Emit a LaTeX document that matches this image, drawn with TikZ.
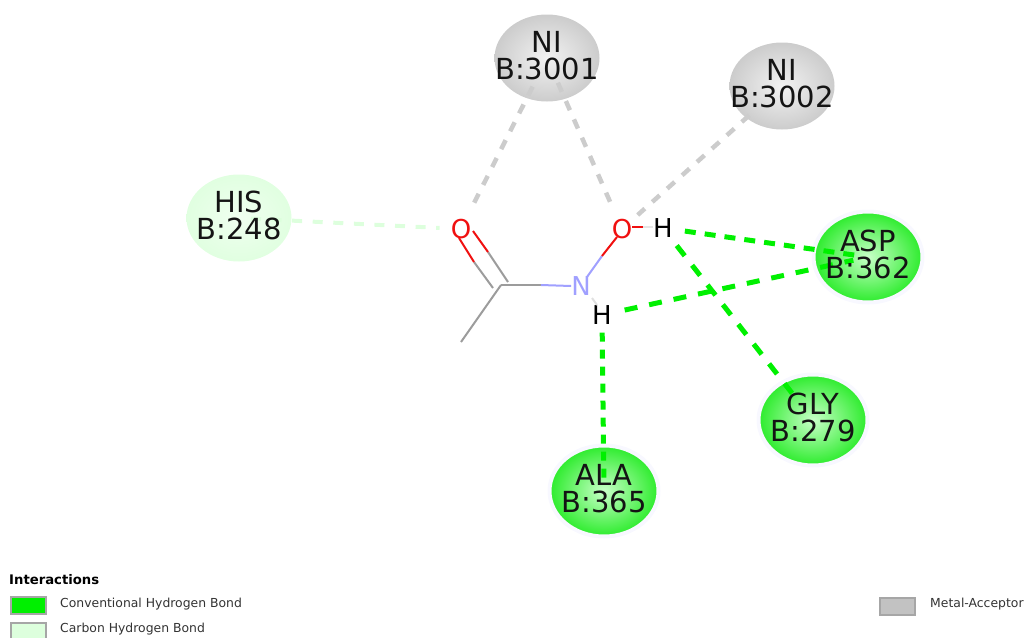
\documentclass[tikz,border=0pt]{standalone}
\usepackage{fontspec}
\usetikzlibrary{shapes.geometric}
\setmainfont{DejaVu Sans}
\begin{document}
\begin{tikzpicture}[x=1pt,y=-1pt,
  resnode/.style={ellipse,minimum width=105pt,minimum height=87pt,inner sep=0pt,outer sep=0pt,draw=none},
  halo/.style={draw=haloc,line width=4pt,minimum width=109pt,minimum height=91pt},
  greenres/.style={inner color=hbcentre,outer color=hbouter},
  grayres/.style={inner color=white!95!black,outer color=black!20},
  resname/.style={align=center,font=\fontsize{29}{26.5}\selectfont,text=black!92,inner sep=0pt,yshift=2.5pt},
  atomtext/.style={font=\fontsize{26}{26}\selectfont,inner sep=0pt},
  hbond/.style={line width=5pt,dash pattern=on 13pt off 12pt,color=hbgreen},
  chbond/.style={line width=4pt,dash pattern=on 10pt off 11pt,color=chgreen},
  metal/.style={line width=4.5pt,dash pattern=on 10pt off 10pt,color=metalgray},
  bondline/.style={line width=2pt},
  legtext/.style={font=\fontsize{12.4}{13}\selectfont,anchor=west,inner sep=0pt,text=black!80},
  swatch/.style={draw=black!35,line width=2pt,minimum width=35pt,minimum height=17pt,inner sep=0pt}]
\definecolor{hbgreen}{HTML}{00F000}
\definecolor{hbcentre}{HTML}{C8FFC8}
\definecolor{hbouter}{HTML}{2CEC2C}
\definecolor{chgreen}{HTML}{DDFFDD}
\definecolor{metalgray}{HTML}{CCCCCC}
\definecolor{bondgray}{HTML}{9C9C9C}
\definecolor{nblue}{HTML}{A0A0FF}
\definecolor{ored}{HTML}{F01010}
\definecolor{haloc}{HTML}{F8F8FF}
\useasboundingbox (0,0) rectangle (1025,637);
% residues
\node[resnode,inner color=white!55!chgreen,outer color=chgreen!90!white] (his) at (239,218) {};
\node[resnode,grayres] (ni1) at (547,58) {};
\node[resnode,grayres] (ni2) at (782,86) {};
\node[resnode,halo,greenres] (asp) at (868,257) {};
\node[resnode,halo,greenres] (gly) at (813,420) {};
\node[resnode,halo,greenres] (ala) at (604,491) {};
% atoms
\node[atomtext,text=ored] (o1) at (461,229) {O};
\node[atomtext,text=ored] (o2) at (622,229) {O};
\node[atomtext,text=nblue] (n) at (581,286) {N};
\node[atomtext] (h1) at (663,228) {H};
\node[atomtext] (h2) at (602,315) {H};
\coordinate (c) at (501,285);
\coordinate (me) at (461,342);
% interactions
\draw[chbond,dash pattern=on 10pt off 10.6pt,shorten <=12pt,shorten >=11pt] (his.center) -- (o1);
\draw[metal,shorten <=32pt,shorten >=10pt] (ni1.center) -- (o1);
\draw[metal,shorten <=27pt,shorten >=10pt] (ni1.center) -- (o2);
\draw[metal,shorten <=44pt,shorten >=7pt] (ni2.center) -- (o2);
\draw[hbond,dash pattern=on 11pt off 9pt,shorten <=12pt,shorten >=10pt] (h1) -- (asp.center);
\draw[hbond,shorten <=13pt,shorten >=15pt] (h2) -- (asp.center);
\draw[hbond,shorten <=10pt,shorten >=34pt] (h1) -- (gly.center);
\draw[hbond,dash pattern=on 9pt off 8pt,shorten <=8pt,shorten >=11pt] (h2) -- (ala.center);
% bonds
\draw[bondline,bondgray] (c) -- (me);
\draw[bondline,bondgray] (c) -- (541,285);
\draw[bondline,nblue] (541,285) -- (n.west);
\draw[bondline,nblue] (587,277) -- (602,256);
\draw[bondline,ored] (602,256) -- (617,237);
\draw[bondline,bondgray] (493,288) -- (474,262);
\draw[bondline,ored] (474,262) -- (459,238);
\draw[bondline,bondgray] (508,282) -- (488,252);
\draw[bondline,ored] (488,252) -- (473,231);
\draw[bondline,ored] (632,227) -- (643,227);
\draw[bondline,black!10] (643,227) -- (653,227);
\draw[bondline,black!12] (592,298) -- (597,305);
% residue labels
\node[resname] at (his) {HIS\\B:248};
\node[resname] at (ni1) {NI\\B:3001};
\node[resname] at (ni2) {NI\\B:3002};
\node[resname] at (asp) {ASP\\B:362};
\node[resname] at (gly) {GLY\\B:279};
\node[resname] at (ala) {ALA\\B:365};
% legend
\node[font=\bfseries\fontsize{13.2}{14}\selectfont,anchor=west,inner sep=0pt] (legtitle) at (9,580) {Interactions};
\node[swatch,fill=hbgreen] (s1) at (28,605) {};
\node[swatch,fill=chgreen] (s2) at (28,631) {};
\node[swatch,fill=black!24] (s3) at (897.5,606) {};
\node[legtext] (t1) at (60,604) {Conventional Hydrogen Bond};
\node[legtext] (t2) at (60,629) {Carbon Hydrogen Bond};
\node[legtext] (t3) at (930,604) {Metal-Acceptor};
\end{tikzpicture}
\end{document}
